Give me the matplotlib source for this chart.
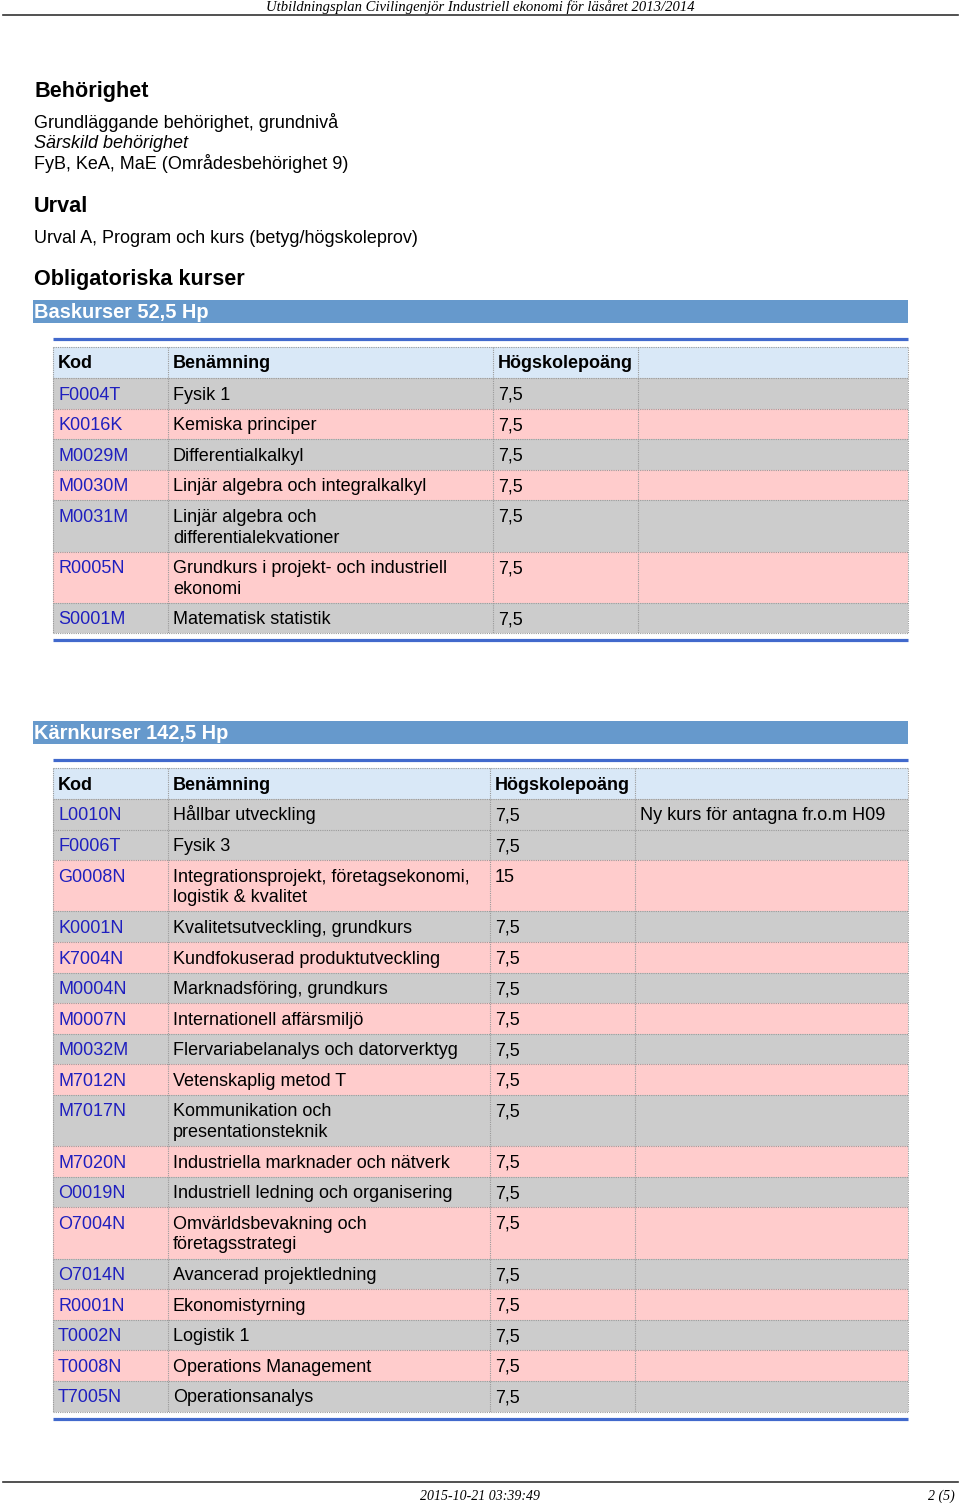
import matplotlib
matplotlib.use('agg')
import matplotlib.pyplot as plt
from matplotlib.patches import Rectangle

# page texts
header_text = 'Utbildningsplan Civilingenjör Industriell ekonomi för läsåret 2013/2014'
footer_date = '2015-10-21 03:39:49'
footer_page = '2 (5)'

# table 1: Baskurser
bas_title = 'Baskurser 52,5 Hp'
bas_codes = ['F0004T', 'K0016K', 'M0029M', 'M0030M', 'M0031M', 'R0005N', 'S0001M']
bas_names = ['Fysik 1', 'Kemiska principer', 'Differentialkalkyl',
             'Linjär algebra och integralkalkyl',
             'Linjär algebra och\ndifferentialekvationer',
             'Grundkurs i projekt- och industriell\nekonomi',
             'Matematisk statistik']
bas_hp = ['7,5', '7,5', '7,5', '7,5', '7,5', '7,5', '7,5']
bas_notes = ['', '', '', '', '', '', '']
bas_shade = ['g', 'p', 'g', 'p', 'g', 'p', 'g']

# table 2: Kärnkurser
karn_title = 'Kärnkurser 142,5 Hp'
karn_codes = ['L0010N', 'F0006T', 'G0008N', 'K0001N', 'K7004N', 'M0004N', 'M0007N',
              'M0032M', 'M7012N', 'M7017N', 'M7020N', 'O0019N', 'O7004N', 'O7014N',
              'R0001N', 'T0002N', 'T0008N', 'T7005N']
karn_names = ['Hållbar utveckling', 'Fysik 3',
              'Integrationsprojekt, företagsekonomi,\nlogistik & kvalitet',
              'Kvalitetsutveckling, grundkurs', 'Kundfokuserad produktutveckling',
              'Marknadsföring, grundkurs', 'Internationell affärsmiljö',
              'Flervariabelanalys och datorverktyg', 'Vetenskaplig metod T',
              'Kommunikation och\npresentationsteknik',
              'Industriella marknader och nätverk', 'Industriell ledning och organisering',
              'Omvärldsbevakning och\nföretagsstrategi', 'Avancerad projektledning',
              'Ekonomistyrning', 'Logistik 1', 'Operations Management', 'Operationsanalys']
karn_hp = ['7,5', '7,5', '15', '7,5', '7,5', '7,5', '7,5', '7,5', '7,5', '7,5',
           '7,5', '7,5', '7,5', '7,5', '7,5', '7,5', '7,5', '7,5']
karn_notes = ['Ny kurs för antagna fr.o.m H09'] + [''] * 17
karn_shade = ['g', 'g', 'p', 'g', 'p', 'g', 'p', 'g', 'p', 'g', 'p', 'g', 'p', 'g',
              'p', 'g', 'p', 'g']

col_headers = ['Kod', 'Benämning', 'Högskolepoäng', '']

SANS = 'Liberation Sans'
SERIF = 'Liberation Serif'
BAND = '#6699cc'
RULE = '#4169cc'
HEAD_BG = '#d9e8f7'
SHADES = {'g': '#cccccc', 'p': '#ffcccc'}
CODE_COL = '#1f1fbf'
DOT = '#9a9a9a'
FS = 13
LINE_H = 20.6

fig = plt.figure(figsize=(9.6, 15.03), dpi=100)
ax = fig.add_axes([0, 0, 1, 1])
ax.set_xlim(0, 960)
ax.set_ylim(1503, 0)
ax.axis('off')

# page header / footer
ax.text(480, 11, header_text, family=SERIF, style='italic', fontsize=10.5,
        ha='center', va='baseline')
ax.plot([3, 958], [15, 15], color='#333333', lw=1.2)
ax.plot([3, 958], [1482, 1482], color='#333333', lw=1.2)
ax.text(480, 1500, footer_date, family=SERIF, style='italic', fontsize=10,
        ha='center', va='baseline')
ax.text(955, 1500, footer_page, family=SERIF, style='italic', fontsize=10,
        ha='right', va='baseline')

# intro sections
ax.text(34, 97, 'Behörighet', family=SANS, weight='bold', fontsize=15.6, va='baseline')
ax.text(34, 128, 'Grundläggande behörighet, grundnivå', family=SANS, fontsize=FS, va='baseline')
ax.text(34, 148, 'Särskild behörighet', family=SANS, style='italic', fontsize=FS, va='baseline')
ax.text(34, 169, 'FyB, KeA, MaE (Områdesbehörighet 9)', family=SANS, fontsize=FS, va='baseline')
ax.text(34, 212, 'Urval', family=SANS, weight='bold', fontsize=15.6, va='baseline')
ax.text(34, 243, 'Urval A, Program och kurs (betyg/högskoleprov)', family=SANS, fontsize=FS,
        va='baseline')
ax.text(34, 285, 'Obligatoriska kurser', family=SANS, weight='bold', fontsize=15.6, va='baseline')


def draw_table(band_top, title, cols, codes, names, hp, notes, shade):
    ax.add_patch(Rectangle((33, band_top), 875, 23, color=BAND, lw=0))
    ax.text(34, band_top + 18, title, family=SANS, weight='bold', fontsize=14.4,
            color='white', va='baseline')
    rule_y = band_top + 39
    ax.plot([53, 908], [rule_y, rule_y], color=RULE, lw=2.3, solid_capstyle='butt')

    top = rule_y + 8
    rows = [(col_headers, HEAD_BG, 31.0, True)]
    for c, n, h, note, s in zip(codes, names, hp, notes, shade):
        nl = n.count('\n') + 1
        rows.append(([c, n, h, note], SHADES[s], 30.6 + LINE_H * (nl - 1), False))

    y = top
    for cells, bg, h, is_head in rows:
        ax.add_patch(Rectangle((cols[0], y), cols[-1] - cols[0], h, color=bg, lw=0))
        ax.plot([cols[0], cols[-1]], [y, y], color=DOT, lw=0.8, ls=(0, (1, 1)))
        for i, txt in enumerate(cells):
            if not txt:
                continue
            color = CODE_COL if (i == 0 and not is_head) else 'black'
            for k, line in enumerate(txt.split('\n')):
                ax.text(cols[i] + 5, y + 21.5 + k * LINE_H, line, family=SANS, fontsize=FS,
                        weight='bold' if is_head else 'normal', color=color,
                        va='baseline')
        y += h
    ax.plot([cols[0], cols[-1]], [y, y], color=DOT, lw=0.8, ls=(0, (1, 1)))
    for x in cols:
        ax.plot([x, x], [top, y], color=DOT, lw=0.8, ls=(0, (1, 1)))
    ax.plot([53, 908], [y + 7, y + 7], color=RULE, lw=2.3, solid_capstyle='butt')


draw_table(300, bas_title, [53, 168, 493, 638, 908],
           bas_codes, bas_names, bas_hp, bas_notes, bas_shade)
draw_table(721, karn_title, [53, 168, 490, 635, 908],
           karn_codes, karn_names, karn_hp, karn_notes, karn_shade)

fig.savefig('out.png', dpi=100)
